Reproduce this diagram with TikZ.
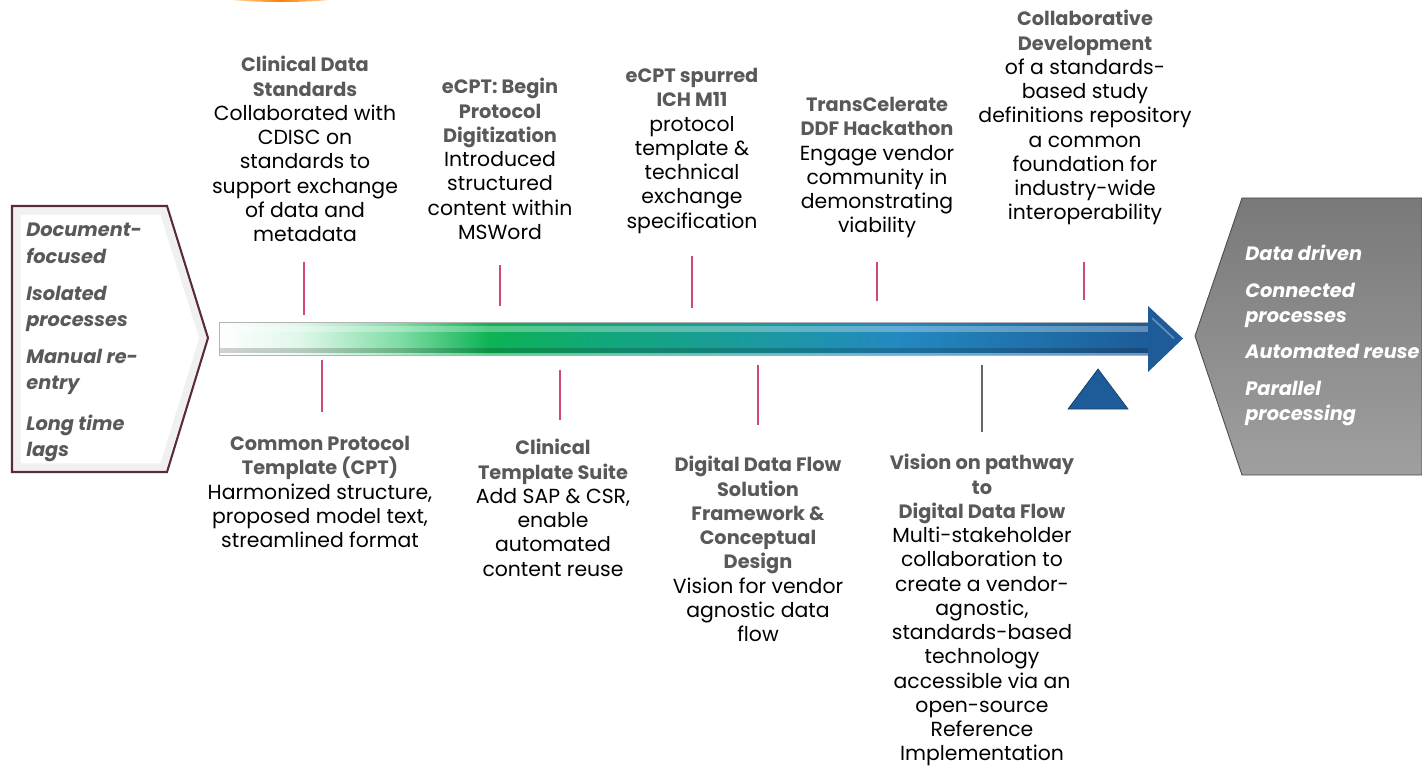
\documentclass[tikz,border=0pt]{standalone}
\usepackage{fontspec}
\setmainfont{Poppins}
\usetikzlibrary{backgrounds}
\definecolor{headgray}{HTML}{595959}
\definecolor{tickpink}{HTML}{D0477E}
\definecolor{arrowblue}{HTML}{1D5C98}
\definecolor{boxedge}{HTML}{5A2A40}
\definecolor{shA}{HTML}{E0F7EA}
\definecolor{shB}{HTML}{7FDCA5}
\definecolor{shC}{HTML}{0DB354}
\definecolor{shD}{HTML}{12A77A}
\definecolor{shE}{HTML}{1B9A9E}
\definecolor{shF}{HTML}{2389C0}
\pgfdeclarehorizontalshading{timeline}{100bp}{color(0bp)=(white); color(25bp)=(white);
	color(29.3bp)=(shA); color(34.7bp)=(shB); color(39.5bp)=(shC); color(45.4bp)=(shD);
	color(53.5bp)=(shE); color(61.4bp)=(shF); color(75bp)=(arrowblue); color(100bp)=(arrowblue)}
\def\leftbox{(12,206) -- (167,206) -- (208,338) -- (167,472) -- (12,472) -- cycle}
\def\leftinner{(17,211) -- (163,211) -- (203,338) -- (163,467) -- (17,467) -- cycle}
\def\rightbox{(1195,336) -- (1242,198) -- (1422,198) -- (1422,475) -- (1242,475) -- cycle}
\def\shaft{(219,322) rectangle (1150,355)}
\def\arrowhead{(1148,306) -- (1183,338.5) -- (1148,372) -- cycle}
\def\marker{(1068,409) -- (1098,369) -- (1128,409) -- cycle}
\def\hd#1{{\fontsize{11}{13.8}\selectfont\bfseries\color{headgray}#1}}
\tikzset{
	event/.style={align=center, inner sep=0pt, anchor=north, font=\fontsize{11.6}{13.8}\selectfont},
	tick/.style={draw=tickpink, line width=0.6pt},
	state/.style={align=left, inner sep=0pt, anchor=north west, font=\fontsize{11}{14.6}\selectfont\bfseries\itshape}
}

\begin{document}
\begin{tikzpicture}[x=0.02cm, y=-0.02cm]
	\useasboundingbox (0,0) rectangle (1422,773);
	\clip (0,0) rectangle (1422,773);
	\shade[left color=white, right color=white, middle color=orange] (281,-6) ellipse (74 and 8);

	% before and after
	\fill[white] \leftbox;
	\draw[gray!12, line width=4pt] \leftinner;
	\draw[boxedge, line width=1.2pt] \leftbox;
	\shade[top color=gray!95!black, bottom color=gray!75, draw=black!70, line width=0.5pt] \rightbox;
	\node[state, text=headgray, font=\fontsize{11}{14.9}\selectfont\bfseries\itshape] (before) at (26,223) {Document-\\focused\\[6.5pt]Isolated\\processes\\[6pt]Manual re-\\entry\\[8pt]Long time\\lags};
	\node[state, text=white] (after) at (1245,245) {Data driven\\[6pt]Connected\\processes\\[6pt]Automated reuse\\[6pt]Parallel\\processing};

	% timeline arrow
	\shade[shading=timeline] \shaft;
	\fill[white, opacity=.3] (219,326) rectangle (1150,332);
	\fill[black, opacity=.18] (219,348) rectangle (1150,353);
	\fill[white, opacity=.35] (219,353) rectangle (1150,355);
	\draw[gray!60, line width=0.4pt] \shaft;
	\fill[arrowblue] \arrowhead;
	\draw[white, opacity=.3, line width=1pt] (1152,318) -- (1174,338.5);
	\fill[arrowblue, draw=arrowblue!70!black, line width=0.4pt] \marker;

	% above the arrow
	\node[event] (cds) at (305,56) {\hd{Clinical Data}\\\hd{Standards}\\Collaborated with\\CDISC on\\standards to\\support exchange\\of data and\\metadata};
	\node[event] (ecpt) at (500,78) {\hd{eCPT: Begin}\\\hd{Protocol}\\\hd{Digitization}\\Introduced\\structured\\content within\\MSWord};
	\node[event] (ich) at (692,68) {\hd{eCPT spurred}\\\hd{ICH M11}\\protocol\\template \&\\technical\\exchange\\specification};
	\node[event] (hack) at (877,97) {\hd{TransCelerate}\\\hd{DDF Hackathon}\\Engage vendor\\community in\\demonstrating\\viability};
	\node[event] (collab) at (1085,10) {\hd{Collaborative}\\\hd{Development}\\of a standards-\\based study\\definitions repository\\a common\\foundation for\\industry-wide\\interoperability};

	% below the arrow
	\node[event] (cpt) at (320,436) {\hd{Common Protocol}\\\hd{Template (CPT)}\\Harmonized structure,\\proposed model text,\\streamlined format};
	\node[event] (cts) at (553,439) {\hd{Clinical}\\\hd{Template Suite}\\Add SAP \& CSR,\\enable\\automated\\content reuse};
	\node[event] (ddf) at (758,456) {\hd{Digital Data Flow}\\\hd{Solution}\\\hd{Framework \&}\\\hd{Conceptual}\\\hd{Design}\\Vision for vendor\\agnostic data\\flow};
	\node[event] (vision) at (982,454) {\hd{Vision on pathway}\\\hd{to}\\\hd{Digital Data Flow}\\Multi-stakeholder\\collaboration to\\create a vendor-\\agnostic,\\standards-based\\technology\\accessible via an\\open-source\\Reference\\Implementation};

	% ticks
	\coordinate (cds-a) at (304,262);    \coordinate (cds-b) at (304,315);
	\coordinate (ecpt-a) at (500,265);   \coordinate (ecpt-b) at (500,306);
	\coordinate (ich-a) at (692,256);    \coordinate (ich-b) at (692,308);
	\coordinate (hack-a) at (877,262);   \coordinate (hack-b) at (877,301);
	\coordinate (collab-a) at (1084,262); \coordinate (collab-b) at (1084,300);
	\coordinate (cpt-a) at (322,360);    \coordinate (cpt-b) at (322,412);
	\coordinate (cts-a) at (560,370);    \coordinate (cts-b) at (560,420);
	\coordinate (ddf-a) at (758,365);    \coordinate (ddf-b) at (758,425);
	\coordinate (vision-a) at (982,365); \coordinate (vision-b) at (982,432);
	\draw[tick] (cds-a) -- (cds-b);
	\draw[tick] (ecpt-a) -- (ecpt-b);
	\draw[tick] (ich-a) -- (ich-b);
	\draw[tick] (hack-a) -- (hack-b);
	\draw[tick] (collab-a) -- (collab-b);
	\draw[tick] (cpt-a) -- (cpt-b);
	\draw[tick] (cts-a) -- (cts-b);
	\draw[tick] (ddf-a) -- (ddf-b);
	\draw[tick, draw=black!60] (vision-a) -- (vision-b);
\end{tikzpicture}
\end{document}
